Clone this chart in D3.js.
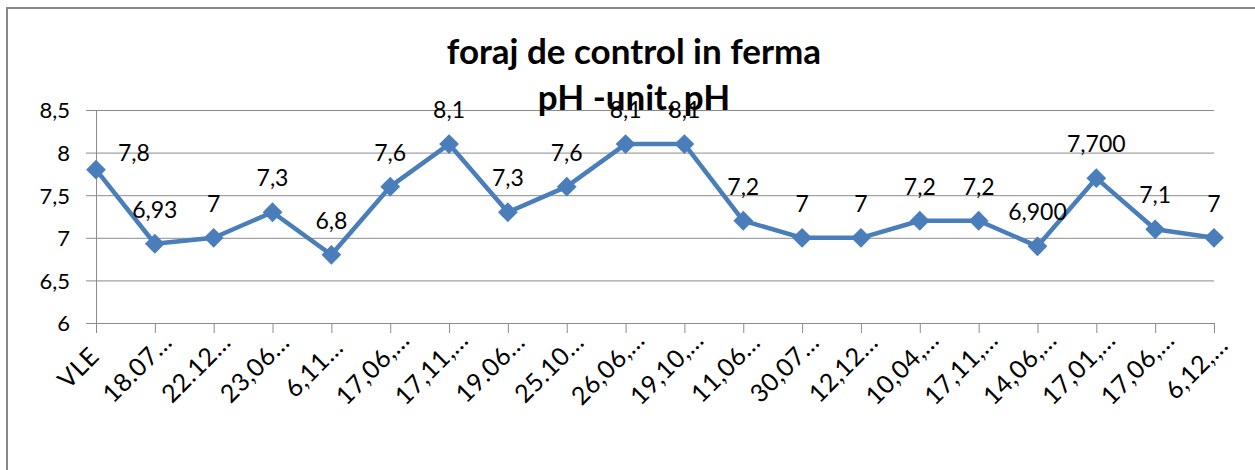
<!DOCTYPE html>
<html><head><meta charset="utf-8">
<script src="https://cdn.jsdelivr.net/npm/d3@7"></script>
<style>body{margin:0;background:#fff;overflow:hidden}</style></head>
<body><svg id="c" width="1255" height="470"></svg>
<script>
const categories = ["VLE","18.07…","22.12…","23,06…","6,11…","17,06,…","17,11,…","19.06…","25.10…","26,06,…","19,10,…","11,06…","30,07…","12,12…","10,04,…","17,11,…","14,06,…","17,01,…","17,06,…","6,12,…"];
const values = [7.8,6.93,7,7.3,6.8,7.6,8.1,7.3,7.6,8.1,8.1,7.2,7,7,7.2,7.2,6.9,7.7,7.1,7];
const valueLabels = ["7,8","6,93","7","7,3","6,8","7,6","8,1","7,3","7,6","8,1","8,1","7,2","7","7","7,2","7,2","6,900","7,700","7,1","7"];
const yTicks = [6,6.5,7,7.5,8,8.5];
const yTickLabels = ["6","6,5","7","7,5","8","8,5"];
const titleLines = ["foraj de control in ferma","pH -unit, pH"];

const FONT = "Lato, 'Open Sans', sans-serif";
const svg = d3.select("#c");
const W = 1255, H = 470;
const plot = {left:96, right:1214, top:110, bottom:323};
const lineColor = "#4A7EBB";
const gridColor = "#8c8c8c";

// chart border (top and left visible)
svg.append("rect").attr("x",7).attr("y",8).attr("width",W+20).attr("height",H+20)
  .attr("fill","#fff").attr("stroke","#888").attr("stroke-width",2);

const x = d3.scalePoint().domain(d3.range(categories.length)).range([plot.left, plot.right]);
const y = d3.scaleLinear().domain([6,8.5]).range([plot.bottom, plot.top]);

// gridlines
svg.append("g").attr("transform",`translate(${plot.left},0)`)
  .call(d3.axisLeft(y).tickValues(yTicks).tickSize(-(plot.right-plot.left)).tickFormat(""))
  .call(g=>g.select(".domain").remove())
  .call(g=>g.selectAll("line").attr("stroke",gridColor).attr("stroke-width",1));

// y axis
svg.append("g").attr("transform",`translate(${plot.left},0)`)
  .call(d3.axisLeft(y).tickValues(yTicks).tickFormat((d,i)=>yTickLabels[i]).tickSize(10).tickSizeOuter(0).tickPadding(16))
  .call(g=>g.select(".domain").attr("stroke",gridColor))
  .call(g=>g.selectAll("line").attr("stroke",gridColor))
  .call(g=>g.selectAll("text").attr("font-family",FONT).attr("font-size",22).attr("fill","#000").attr("dy","0.36em"));

// x axis
svg.append("g").attr("transform",`translate(0,${plot.bottom})`)
  .call(d3.axisBottom(x).tickFormat(i=>categories[i]).tickSize(10).tickSizeOuter(0))
  .call(g=>g.select(".domain").attr("stroke",gridColor))
  .call(g=>g.selectAll("line").attr("stroke",gridColor))
  .call(g=>g.selectAll("text").attr("font-family",FONT).attr("font-size",25).attr("fill","#000")
    .attr("letter-spacing","0.5px")
    .attr("text-anchor","middle").attr("dy",null).attr("y",null)
    .attr("transform","translate(-12,51) rotate(-45)"));

// title
svg.append("g").selectAll("text").data(titleLines).join("text")
  .attr("x",634).attr("y",(d,i)=>64+i*46)
  .attr("text-anchor","middle").attr("font-family",FONT).attr("font-weight","bold")
  .attr("font-size",35).attr("fill","#000").text(d=>d);

// line
svg.append("path").datum(values)
  .attr("d",d3.line().x((d,i)=>x(i)).y(d=>y(d)))
  .attr("fill","none").attr("stroke",lineColor).attr("stroke-width",4.5).attr("stroke-linejoin","round");

// diamond markers
svg.append("g").selectAll("rect").data(values).join("rect")
  .attr("x",-7).attr("y",-7).attr("width",14).attr("height",14)
  .attr("transform",(d,i)=>`translate(${x(i)},${y(d)}) rotate(45)`)
  .attr("fill",lineColor);

// data labels
svg.append("g").selectAll("text").data(values).join("text")
  .attr("x",(d,i)=> i===0 ? x(i)+22 : x(i))
  .attr("y",(d,i)=> i===0 ? y(d)-9 : y(d)-26)
  .attr("text-anchor",(d,i)=> i===0 ? "start" : "middle")
  .attr("font-family",FONT).attr("font-size",23).attr("fill","#000")
  .text((d,i)=>valueLabels[i]);
</script></body></html>
